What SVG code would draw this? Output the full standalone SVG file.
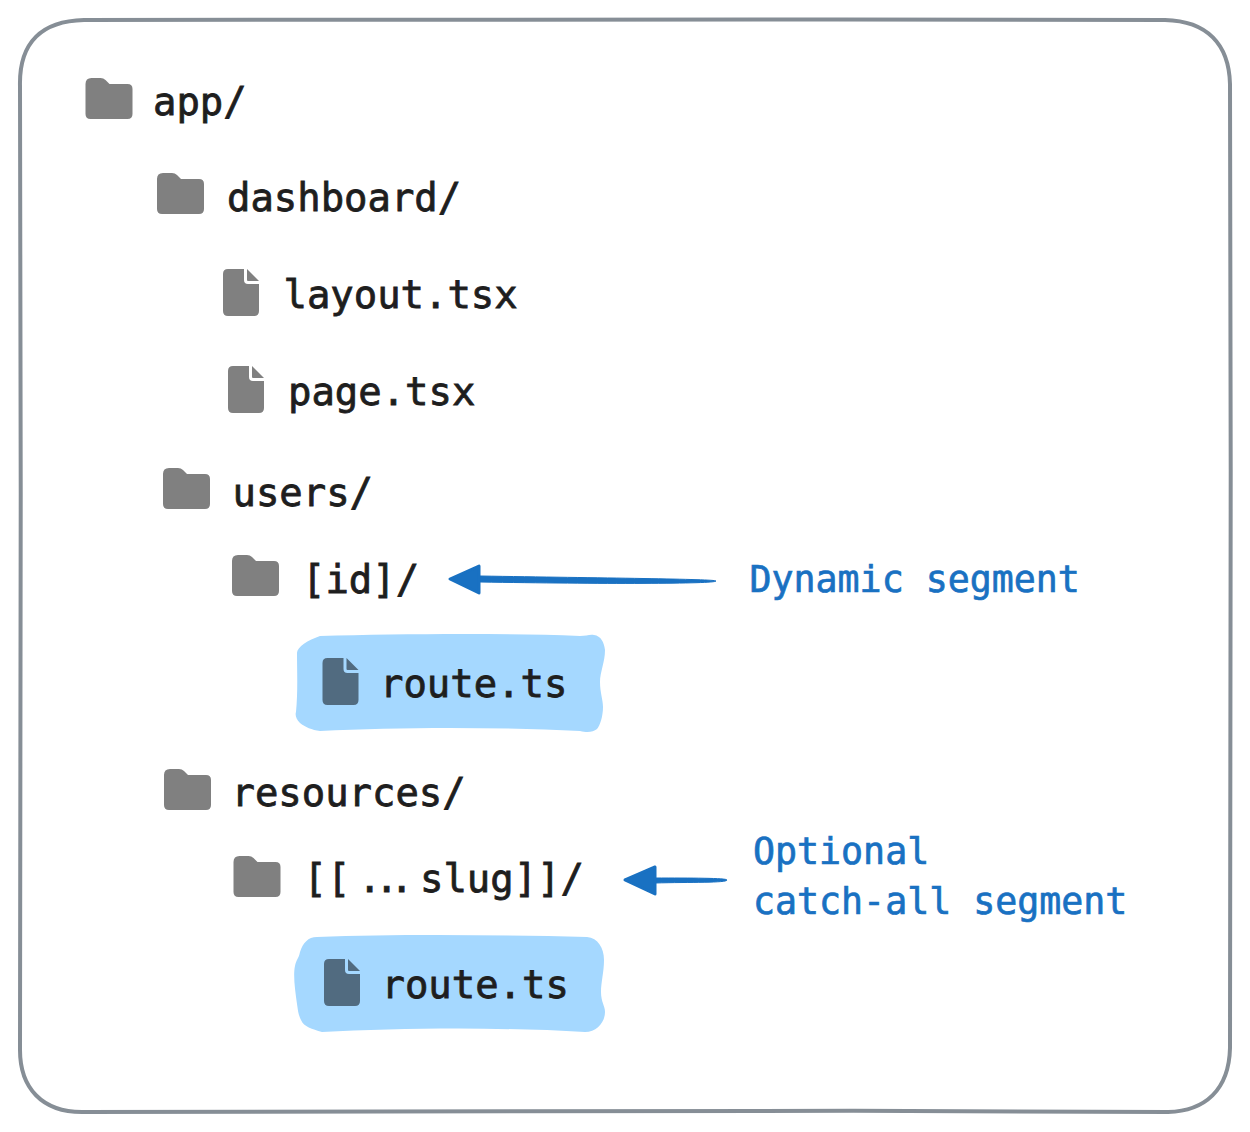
<svg xmlns="http://www.w3.org/2000/svg" width="1250" height="1132" viewBox="0 0 1250 1132">
<style>
.t{font-family:"DejaVu Sans Mono","Liberation Mono",monospace;font-size:38.9px;fill:#1e1e1e;stroke:#1e1e1e;stroke-width:.8px}
.n{font-family:"DejaVu Sans Mono","Liberation Mono",monospace;font-size:36.6px;fill:#1971c2;stroke:#1971c2;stroke-width:.7px}
.i{fill:#808080}
.h{fill:#a5d8ff}
.d{fill:#516b80}
.a{fill:#1971c2;stroke:#1971c2;stroke-linejoin:round}
</style>
<defs>
<path id="folder" d="M6 0H15q3 0 5 2l4 4H42q5 0 5 5V36q0 5-5 5H5q-5 0-5-5V6q0-6 6-6z"/>
<path id="doc" d="M5 0H21V11q0 4 4 4H36V42q0 5-5 5H5q-5 0-5-5V5q0-5 5-5z"/>
<path id="ear" d="M24 0L36 12H25q-1 0-1-1z"/>
</defs>
<rect width="1250" height="1132" fill="#fff"/>
<path id="frame" d="M20 86C19 42 42 21 84 20C400 19 800 19 1165 20C1207 21 1229 44 1230 84C1231 400 1231 750 1230 1048C1229 1090 1205 1111 1168 1112C800 1110 400 1110 82 1112C42 1112 20 1088 20 1050C21 750 21 400 20 86Z" fill="none" stroke="#868e96" stroke-width="4"/>
<g id="blob-dynamic"><path class="h" d="M320 636C400 634 500 633 580 636C586 636 590 634 594 635C601 636 604 642 605 650C605 662 600 672 600 682C600 692 603 700 603 707C603 716 600 726 597 729C593 732 588 733 580 731C500 727 400 727 320 731C312 730 305 727 300 723C296 719 295 715 296 712C298 692 297 670 297 653C297 647 308 640 320 636Z"/></g>
<g id="blob-catchall"><path class="h" d="M317 937C400 934 500 935 587 937C598 938 604 948 604 960C604 972 601 982 601 992C601 1002 605 1006 605 1012C605 1022 597 1032 585 1032C500 1027 400 1028 322 1032C312 1029 304 1027 301 1020C298 1014 298 1010 297 1004C295 990 293 975 295 966C296 960 299 958 300 952C303 943 308 937 317 937Z"/></g>
<g id="app"><use href="#folder" class="i" x="85.5" y="78"/><text class="t" x="153" y="115">app/</text></g>
<g id="dashboard"><use href="#folder" class="i" x="157" y="173"/><text class="t" x="227" y="211">dashboard/</text></g>
<g id="layout"><use href="#doc" class="i" x="223" y="269"/><use href="#ear" class="i" x="223" y="269"/><text class="t" x="283.5" y="308">layout.tsx</text></g>
<g id="page"><use href="#doc" class="i" x="228" y="366"/><use href="#ear" class="i" x="228" y="366"/><text class="t" x="288" y="405">page.tsx</text></g>
<g id="users"><use href="#folder" class="i" x="163" y="468"/><text class="t" x="232.5" y="505.5">users/</text></g>
<g id="id"><use href="#folder" class="i" x="232" y="555"/><text class="t" x="302" y="593">[id]/</text></g>
<g id="route-1"><use href="#doc" class="d" x="322.5" y="658"/><use href="#ear" class="d" x="322.5" y="658"/><text class="t" x="380" y="697">route.ts</text></g>
<g id="resources"><use href="#folder" class="i" x="164" y="769"/><text class="t" x="231.5" y="806">resources/</text></g>
<g id="slug"><use href="#folder" class="i" x="233.5" y="856"/><text class="t" x="303.5" y="892">[[<tspan x="358 375 390">...</tspan><tspan x="420">slug]]/</tspan></text></g>
<g id="route-2"><use href="#doc" class="d" x="324" y="959"/><use href="#ear" class="d" x="324" y="959"/><text class="t" x="381.5" y="998">route.ts</text></g>
<g id="label-dynamic"><text class="n" x="749.5" y="592">Dynamic segment</text></g>
<g id="label-catchall"><text class="n" x="753" y="864">Optional</text><text class="n" x="753" y="914">catch-all segment</text></g>
<g id="connectors">
<path class="a" stroke-width="1" d="M716 581C716 579 600 578 480 576V582C600 584 716 584 716 581Z"/>
<path class="a" stroke-width="3" d="M450 579L479 566V593Z"/>
<path class="a" stroke-width="1" d="M727 880C727 878 690 878 655 878V883C690 882 727 883 727 880Z"/>
<path class="a" stroke-width="3" d="M625 880L655 867V894Z"/>
</g>
</svg>
